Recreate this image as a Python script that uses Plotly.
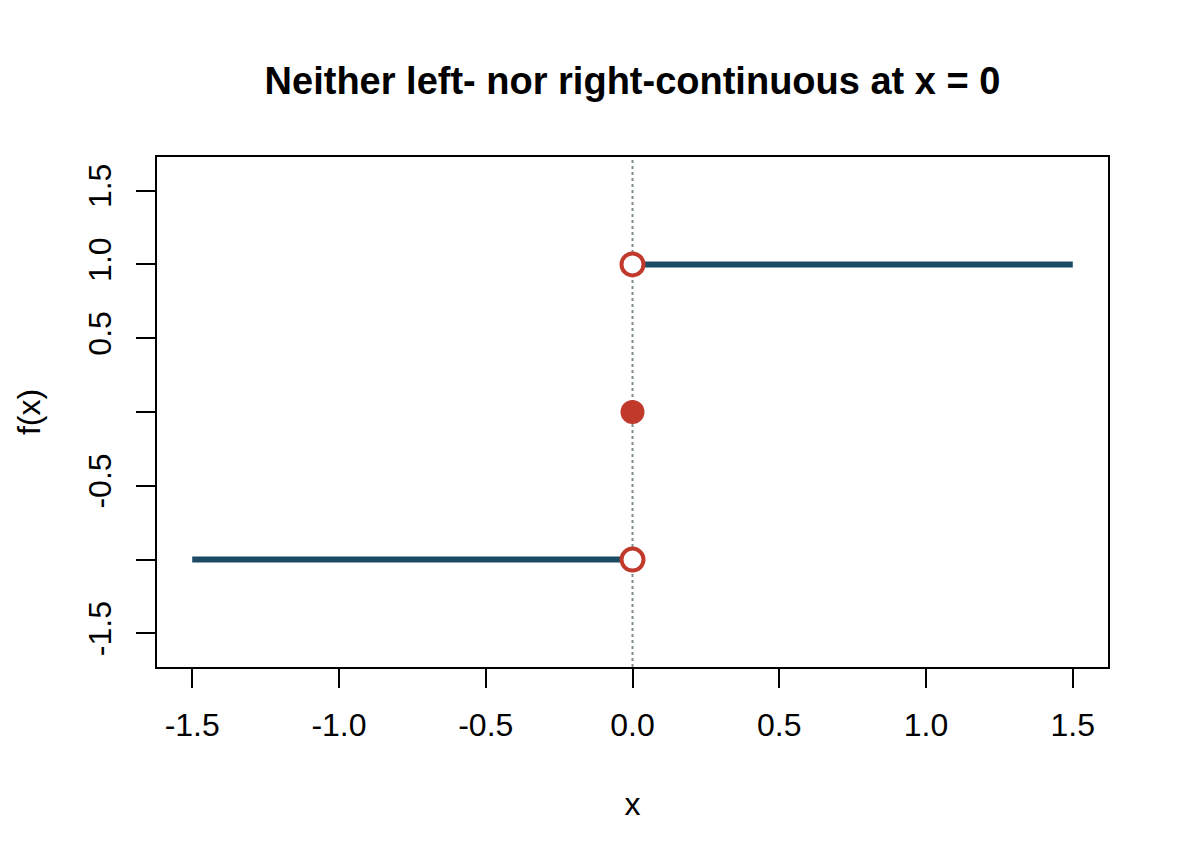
"""Step function that is neither left- nor right-continuous at x = 0."""

import plotly.graph_objects as go

# data
left_x = [-1.5, 0.0]
left_y = [-1.0, -1.0]
right_x = [0.0, 1.5]
right_y = [1.0, 1.0]
open_x = [0.0, 0.0]
open_y = [1.0, -1.0]
filled_x = [0.0]
filled_y = [0.0]

x_ticks = [-1.5, -1.0, -0.5, 0.0, 0.5, 1.0, 1.5]
x_labels = ["-1.5", "-1.0", "-0.5", "0.0", "0.5", "1.0", "1.5"]
y_ticks = [-1.5, -1.0, -0.5, 0.0, 0.5, 1.0, 1.5]
y_labels = ["-1.5", "", "-0.5", "", "0.5", "1.0", "1.5"]

BLUE = "#1B4A63"
RED = "#C0392B"
FONT = "Liberation Sans, Arial, sans-serif"

fig = go.Figure()

fig.add_shape(
	type="line", x0=0, x1=0, y0=0, y1=1, xref="x", yref="paper",
	line=dict(color="#7F8C8D", width=2, dash="dot"), layer="below",
)

fig.add_trace(go.Scatter(x=left_x, y=left_y, mode="lines", line=dict(color=BLUE, width=6)))
fig.add_trace(go.Scatter(x=right_x, y=right_y, mode="lines", line=dict(color=BLUE, width=6)))
fig.add_trace(go.Scatter(
	x=open_x, y=open_y, mode="markers",
	marker=dict(size=22, color="white", line=dict(color=RED, width=4)),
))
fig.add_trace(go.Scatter(
	x=filled_x, y=filled_y, mode="markers",
	marker=dict(size=24, color=RED, line=dict(width=0)),
))

axis_common = dict(
	showgrid=False, zeroline=False, showline=True, mirror=True,
	linecolor="black", linewidth=2, ticks="outside", ticklen=19,
	tickwidth=2, tickcolor="black",
	tickfont=dict(family=FONT, size=32, color="black"),
)

# page body has an 8px margin, so the figure is kept 16px smaller
fig.update_layout(
	width=1174,
	height=848,
	showlegend=False,
	plot_bgcolor="white",
	paper_bgcolor="white",
	margin=dict(l=149, r=74, t=149, b=189),
	title=dict(
		text="<b>Neither left- nor right-continuous at x = 0</b>",
		x=0.5, xref="paper", xanchor="center", y=1 - 73 / 848, yanchor="middle",
		font=dict(family=FONT, size=38, color="black"),
	),
	xaxis=dict(
		range=[-1.62, 1.62], tickvals=x_ticks, ticktext=x_labels, ticklabelstandoff=10,
		title=dict(text="x", font=dict(family=FONT, size=32, color="black"), standoff=50),
		**axis_common,
	),
	yaxis=dict(
		range=[-1.728, 1.728], tickvals=y_ticks, ticktext=y_labels, tickangle=-90,
		ticklabelstandoff=12,
		title=dict(text="f(x)", font=dict(family=FONT, size=32, color="black"), standoff=32),
		**axis_common,
	),
)

fig.write_html("out.html")
